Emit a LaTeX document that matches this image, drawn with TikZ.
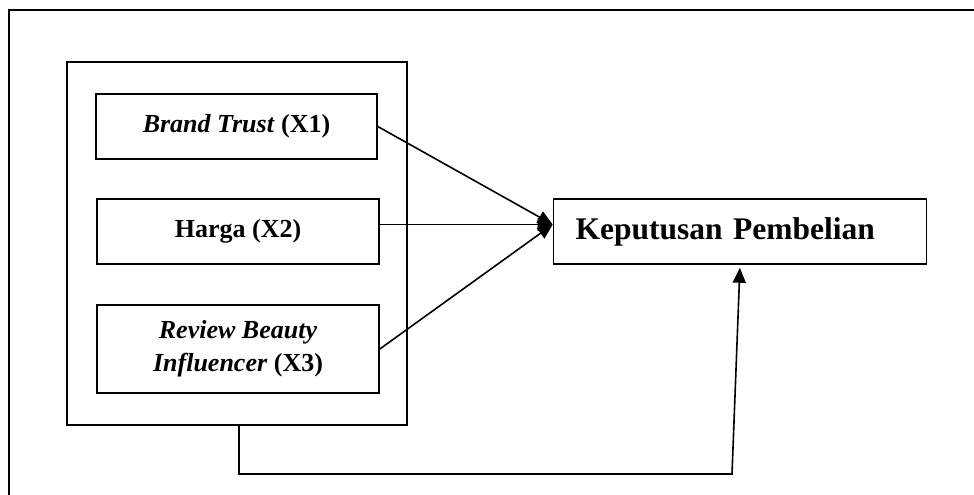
\documentclass[tikz,border=0pt]{standalone}
\usepackage{fontspec}
\setmainfont{Liberation Serif}
\usetikzlibrary{arrows.meta}
\usetikzlibrary{positioning}

\begin{document}
\begin{tikzpicture}[x=1pt, y=-1pt, line cap=round, line join=miter, >={Triangle[length=15pt,width=13pt]},
  every node/.style={line width=1.6pt},
  varbox/.style={draw, minimum width=282pt, minimum height=65pt, align=center, font=\fontsize{26}{33}\selectfont\bfseries},
  line/.style={line width=1.6pt}]

\useasboundingbox (0,0) rectangle (974,495);
\clip (0,0) rectangle (974,495);

% outer frame
\draw[line width=1.6pt] (9,500) -- (9,10) -- (980,10);

% group of the independent variables
\node[draw, minimum width=340pt, minimum height=363pt] (group) at (237,243.5) {};

\node[varbox, minimum width=281pt] (x1) at (236.5,126.5) {\textit{Brand Trust} (X1)};
\node[varbox] (x2) at (238,231.5) {Harga (X2)};
\node[varbox, minimum height=88pt] (x3) at (238,349) {\textit{Review Beauty}\\\textit{Influencer} (X3)};

\node[draw, minimum height=65pt, text width=329pt, inner xsep=22pt, align=left,
      font=\fontsize{31.5}{36}\selectfont\bfseries] (y) at (740,231.5) {\raisebox{-2pt}{Keputusan Pembelian}};

\draw[line, ->] (x1.east) -- ([yshift=7pt]y.west);
\draw[line, ->] ([yshift=7pt]x2.east) -- ([yshift=7pt]y.west);
\draw[line, ->] (x3.east) -- ([yshift=7pt]y.west);

\coordinate (loopL) at (239,474);
\coordinate (loopR) at (732,474);
\draw[line, ->, shorten >=3pt] (group.south -| loopL) -- (loopL) -- (loopR) -- (y.south);

\end{tikzpicture}
\end{document}
